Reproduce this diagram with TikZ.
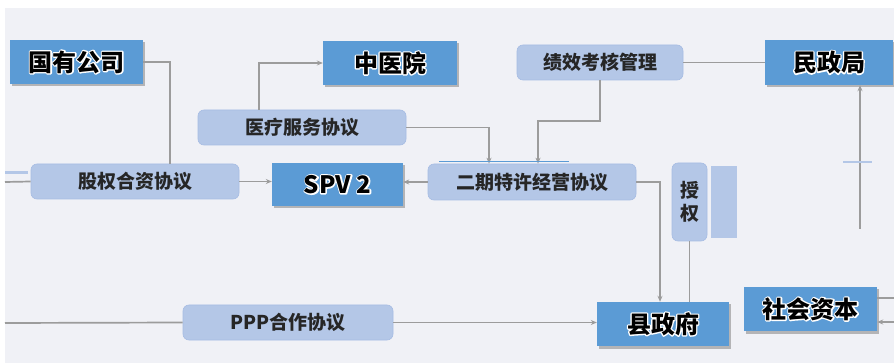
\documentclass[tikz,border=0pt]{standalone}
\usepackage{fontspec}
\newfontfamily\cjk{Noto Sans CJK SC}
\usetikzlibrary{arrows.meta,shadows}
\definecolor{bg}{HTML}{F0F1F6}
\definecolor{dblue}{HTML}{5B9BD5}
\definecolor{lblue}{HTML}{B4C7E7}
\definecolor{lborder}{HTML}{A6BCE3}
\definecolor{lgray}{HTML}{9C9C9C}
% white outline behind the text (stroked copy underneath, filled copy on top)
\newcommand{\halotext}[1]{\leavevmode\rlap{\special{pdf:code 1 1 1 RG 2.6 w 1 j 1 J 1 Tr}#1\special{pdf:code 0 Tr}}#1}
\tikzset{
  bigbox/.style={fill=dblue, draw=none, inner sep=0pt, text=black,
    font=\cjk\bfseries\fontsize{24}{26}\selectfont,
    drop shadow={shadow xshift=2pt, shadow yshift=-2.5pt, fill=black!45, opacity=0.6}},
  smallbox/.style={fill=lblue, draw=lborder, line width=0.6pt, rounded corners=6pt,
    inner sep=0pt, font=\cjk\bfseries\fontsize{19}{23}\selectfont, text=black!85},
  conn/.style={draw=lgray, line width=1.7pt},
  arr/.style={conn, -{Stealth[length=6pt,width=5pt]}},
  artifact/.style={draw=lblue, line width=2pt}
}
\begin{document}
\begin{tikzpicture}[x=1pt,y=-1pt]
\useasboundingbox (0,0) rectangle (894,363);
\fill[white] (0,0) rectangle (894,363);
\fill[bg] (5,8) rectangle (894,363);

% dark blue boxes
\node[bigbox, minimum width=133pt, minimum height=44pt] (gy)   at (76.5,62)  {\halotext{国有公司}};
\node[bigbox, minimum width=134pt, minimum height=44pt] (zyy)  at (390,63)   {\halotext{中医院}};
\node[bigbox, minimum width=128pt, minimum height=45pt] (mz)   at (829,62.5) {\halotext{民政局}};
\node[bigbox, minimum width=131pt, minimum height=43pt] (spv)  at (337.5,184.5) {\halotext{SPV 2}};
\node[bigbox, minimum width=132pt, minimum height=44pt] (xzf)  at (663,324)  {\halotext{县政府}};
\node[bigbox, minimum width=133pt, minimum height=44pt] (shzb) at (810.5,309) {\halotext{社会资本}};

% light blue boxes
\node[smallbox, minimum width=166pt, minimum height=35pt] (jx)  at (600,62.5)  {绩效考核管理};
\node[smallbox, minimum width=208pt, minimum height=35pt] (yl)  at (302,127.5) {医疗服务协议};
\node[smallbox, minimum width=208pt, minimum height=35pt] (gq)  at (135,181.5) {股权合资协议};
\node[smallbox, minimum width=208pt, minimum height=36pt] (eq)  at (532,182)   {二期特许经营协议};
\node[smallbox, minimum width=35pt, minimum height=78pt, align=center] (sq) at (689.5,202) {授\\权};
\node[fill=lblue, draw=none, inner sep=0pt, minimum width=26pt, minimum height=72pt] (blank) at (724,202) {};
\node[smallbox, minimum width=210pt, minimum height=35pt] (ppp) at (288,322.5) {PPP合作协议};

% free ends
\coordinate (leftA) at (5,182);
\coordinate (leftB) at (5,323);
\coordinate (mzfoot) at (860,229);
\coordinate (rtop) at (894,298);
\coordinate (rbot) at (894,322);

% connectors
\draw[conn] (gy.east) -| ([xshift=35pt]gq.north);
\draw[arr] ([xshift=-43pt]yl.north) |- (zyy.west);
\draw[arr] (yl.east) -| ([xshift=-43pt]eq.north);
\draw[arr] (jx.south) -- ++(0,41) -| ([xshift=6pt]eq.north);
\draw[conn] (jx.east) -- (mz.west);
\draw[arr] (gq.east) -- (gq.east -| spv.west);
\draw[arr] (eq.west) -- (eq.west -| spv.east);
\draw[arr] (eq.east) -| ([xshift=-3pt]xzf.north);
\draw[conn] (sq.south) -- (sq.south |- xzf.north);
\draw[conn] (leftA) -- (gq.west);
\draw[conn] (leftB) -- (ppp.west);
\draw[arr] (ppp.east) -- (ppp.east -| xzf.west);
\draw[conn] (shzb.east |- rtop) -- (rtop);
\draw[arr] (rbot) -- (shzb.east |- rbot);
\draw[arr] (mzfoot) -- (mzfoot |- mz.south);

% stray marks visible in the picture
\draw[artifact] (843,162) -- (872,162);
\draw[artifact, line width=3pt] (5,173) -- (28,173);
\draw[draw=dblue, line width=0.8pt] (439,161) -- (569,161);
\end{tikzpicture}
\end{document}
